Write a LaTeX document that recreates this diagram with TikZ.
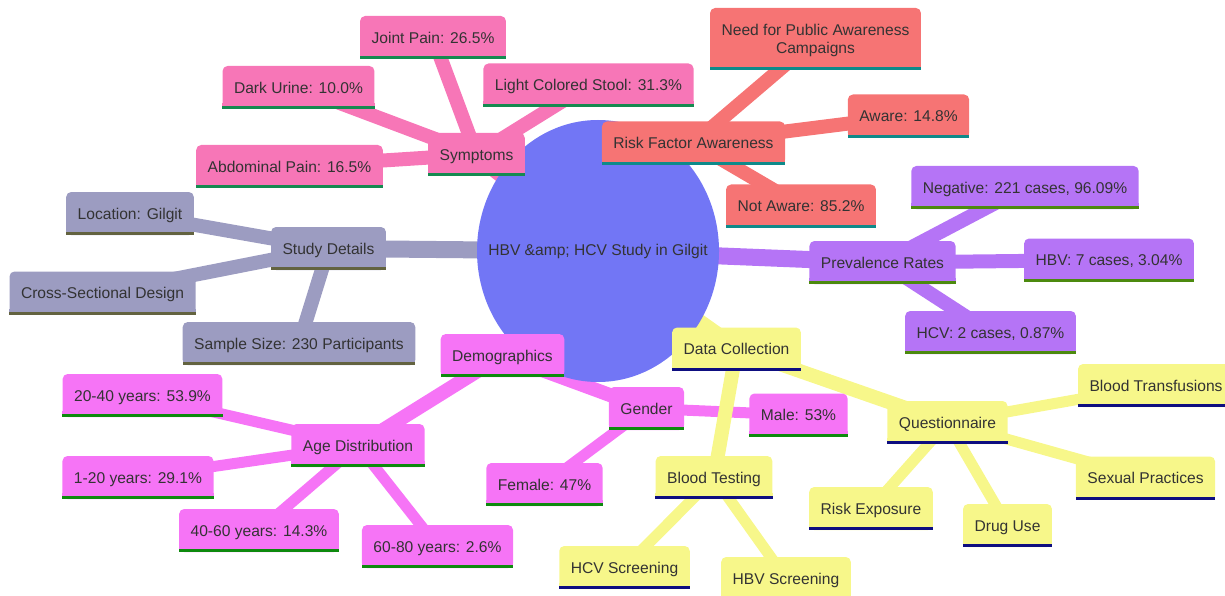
\documentclass[tikz,border=0pt]{standalone}
\usepackage{fontspec}
\setmainfont{Liberation Sans}
\usetikzlibrary{shapes.geometric,backgrounds}
\definecolor{txt}{RGB}{51,51,51}
\definecolor{rootF}{RGB}{114,118,245}
\definecolor{sympF}{RGB}{247,118,183}\definecolor{sympL}{RGB}{21,138,80}
\definecolor{riskF}{RGB}{246,116,116}\definecolor{riskL}{RGB}{14,138,138}
\definecolor{prevF}{RGB}{181,116,246}\definecolor{prevL}{RGB}{76,138,14}
\definecolor{studF}{RGB}{156,156,193}\definecolor{studL}{RGB}{99,99,64}
\definecolor{demoF}{RGB}{246,116,246}\definecolor{demoL}{RGB}{14,138,14}
\definecolor{dataF}{RGB}{247,247,138}\definecolor{dataL}{RGB}{14,14,128}
\tikzset{
  mm/.style={font=\fontsize{15.6}{18.5}\selectfont,text=txt,inner xsep=11.5pt,inner ysep=0pt,
    minimum height=43pt,text height=11.2pt,text depth=0pt,rounded corners=5pt},
  symp/.style={mm,fill=sympF}, risk/.style={mm,fill=riskF}, prev/.style={mm,fill=prevF},
  stud/.style={mm,fill=studF}, demo/.style={mm,fill=demoF}, data/.style={mm,fill=dataF},
  e0/.style={line width=17pt}, e1/.style={line width=14pt}, e2/.style={line width=11pt}
}
\begin{document}
\begin{tikzpicture}[x=1pt,y=-1pt]
\useasboundingbox (0,0) rectangle (1225,596);
\node[ellipse,fill=rootF,minimum width=242pt,minimum height=262pt,inner sep=0pt,
  font=\fontsize{15.6}{18.5}\selectfont,text=txt] (root) at (598,251) {\makebox[0pt]{HBV \&amp; HCV Study in Gilgit}};
% symptoms
\node[symp] (symp) at (476.5,154.5) {Symptoms};
\node[symp] (jp) at (433,37.5) {Joint Pain: 26.5\%};
\node[symp] (du) at (298.5,87.5) {Dark Urine: 10.0\%};
\node[symp] (ap) at (289.5,166.5) {Abdominal Pain: 16.5\%};
\node[symp] (lcs) at (588.5,85) {Light Colored Stool: 31.3\%};
% risk awareness
\node[risk] (rfa) at (693.5,143) {Risk Factor Awareness};
\node[risk,minimum height=62pt,align=center,text height=29.7pt] (need) at (815.5,39) {Need for Public Awareness\\Campaigns};
\node[risk] (aware) at (908.5,116) {Aware: 14.8\%};
\node[risk] (naware) at (801,206) {Not Aware: 85.2\%};
% prevalence
\node[prev] (prev) at (882.5,262.5) {Prevalence Rates};
\node[prev] (neg) at (1025,187.5) {Negative: 221 cases, 96.09\%};
\node[prev] (hbv) at (1109,260) {HBV: 7 cases, 3.04\%};
\node[prev] (hcv) at (990.5,332.5) {HCV: 2 cases, 0.87\%};
% study details
\node[stud] (stud) at (328.5,248.5) {Study Details};
\node[stud] (loc) at (130,213.5) {Location: Gilgit};
\node[stud] (cross) at (102.5,293) {Cross-Sectional Design};
\node[stud] (sample) at (299,343.5) {Sample Size: 230 Participants};
% demographics
\node[demo] (demo) at (502.5,355.5) {Demographics};
\node[demo] (age) at (358,445.5) {Age Distribution};
\node[demo] (gender) at (646.5,408.5) {Gender};
\node[demo] (y2040) at (142.5,395.5) {20-40 years: 53.9\%};
\node[demo] (y120) at (138,477.5) {1-20 years: 29.1\%};
\node[demo] (y4060) at (259,530.5) {40-60 years: 14.3\%};
\node[demo] (y6080) at (437.5,546.5) {60-80 years: 2.6\%};
\node[demo] (male) at (798.5,415) {Male: 53\%};
\node[demo] (female) at (544.5,484.5) {Female: 47\%};
% data collection
\node[data] (data) at (736.5,349) {Data Collection};
\node[data] (blood) at (714,477.5) {Blood Testing};
\node[data] (quest) at (947.5,422.5) {Questionnaire};
\node[data] (hcvs) at (624.5,567.5) {HCV Screening};
\node[data] (hbvs) at (786,578.5) {HBV Screening};
\node[data] (transf) at (1156,385.5) {Blood Transfusions};
\node[data] (sexual) at (1145.5,478) {Sexual Practices};
\node[data] (riskexp) at (871,508.5) {Risk Exposure};
\node[data] (drug) at (1007.5,525.5) {Drug Use};
% bottom bars
\foreach \n/\b in {symp/symp,jp/symp,du/symp,ap/symp,lcs/symp,rfa/risk,need/risk,aware/risk,naware/risk,
  prev/prev,neg/prev,hbv/prev,hcv/prev,stud/stud,loc/stud,cross/stud,sample/stud,
  demo/demo,age/demo,gender/demo,y2040/demo,y120/demo,y4060/demo,y6080/demo,male/demo,female/demo,
  data/data,blood/data,quest/data,hcvs/data,hbvs/data,transf/data,sexual/data,riskexp/data,drug/data}{
  \fill[fill=\b F] (\n.south west) rectangle ([yshift=6pt]\n.south east);
  \fill[fill=\b L] (\n.south west) rectangle ([yshift=3pt]\n.south east);
}
\begin{scope}[on background layer]
\draw[e0,studF] (root.center) -- (stud.center);
\foreach \n in {loc,cross,sample} \draw[e1,studF] (stud.center) -- (\n.center);
\draw[e0,sympF] (root.center) -- (symp.center);
\foreach \n in {jp,du,ap,lcs} \draw[e1,sympF] (symp.center) -- (\n.center);
\draw[e0,riskF] (root.center) -- (rfa.center);
\foreach \n in {need,aware,naware} \draw[e1,riskF] (rfa.center) -- (\n.center);
\draw[e0,prevF] (root.center) -- (prev.center);
\foreach \n in {neg,hbv,hcv} \draw[e1,prevF] (prev.center) -- (\n.center);
\draw[e0,demoF] (root.center) -- (demo.center);
\draw[e1,demoF] (demo.center) -- (age.center);
\draw[e1,demoF] (demo.center) -- (gender.center);
\foreach \n in {y2040,y120,y4060,y6080} \draw[e2,demoF] (age.center) -- (\n.center);
\foreach \n in {male,female} \draw[e2,demoF] (gender.center) -- (\n.center);
\draw[e0,dataF] (root.center) -- (data.center);
\draw[e1,dataF] (data.center) -- (blood.center);
\draw[e1,dataF] (data.center) -- (quest.center);
\foreach \n in {hcvs,hbvs} \draw[e2,dataF] (blood.center) -- (\n.center);
\foreach \n in {transf,sexual,riskexp,drug} \draw[e2,dataF] (quest.center) -- (\n.center);
\end{scope}
\end{tikzpicture}
\end{document}
